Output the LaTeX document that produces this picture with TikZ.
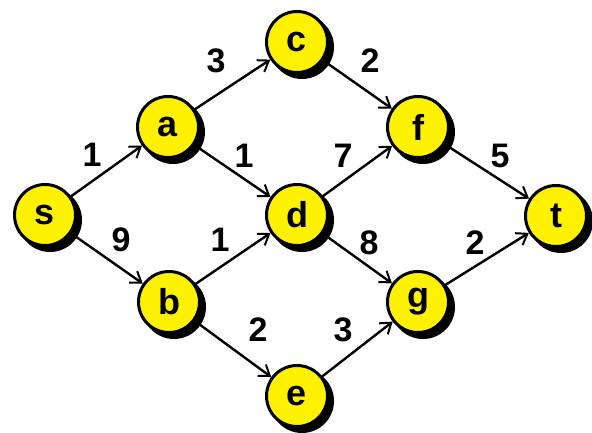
\documentclass[tikz,border=0pt]{standalone}
\usepackage{fontspec}
\setmainfont{Liberation Sans}
\usetikzlibrary{arrows.meta}
\begin{document}
\begin{tikzpicture}[x=1pt,y=-1pt,
  vtx/.style={circle,draw=black,line width=3pt,fill=yellow,minimum size=61pt,inner sep=0pt,
    font=\fontsize{36}{36}\selectfont\bfseries},
  shd/.style={fill=black},
  wt/.style={font=\fontsize{34}{34}\selectfont\bfseries,inner sep=0pt},
  edge/.style={line width=2.4pt,-{Straight Barb[length=10pt,width=14pt,line width=2pt]}}]
\useasboundingbox (0,0) rectangle (592,433);
\foreach \n/\x/\y in {s/45/215,a/168/127,b/169/302,c/297/42,d/297/215,e/297/396,f/418/127,g/418/302,t/556/216}{
  \fill[shd] (\x+5,\y+5) circle (32pt);
}
\node[vtx] (s) at (45,215) {s};
\node[vtx] (a) at (168,127) {a};
\node[vtx] (b) at (169,302) {b};
\node[vtx] (c) at (297,42) {c};
\node[vtx] (d) at (297,215) {d};
\node[vtx] (e) at (297,396) {e};
\node[vtx] (f) at (418,127) {f};
\node[vtx] (g) at (418,302) {g};
\node[vtx] (t) at (556,216) {t};
\draw[edge] (s) -- (a);
\draw[edge] (s) -- (b);
\draw[edge] (a) -- (c);
\draw[edge] (a) -- (d);
\draw[edge] (b) -- (d);
\draw[edge] (b) -- (e);
\draw[edge] (c) -- (f);
\draw[edge] (d) -- (f);
\draw[edge] (d) -- (g);
\draw[edge] (e) -- (g);
\draw[edge] (f) -- (t);
\draw[edge] (g) -- (t);
\node[wt] (w1) at (216,61) {3};
\node[wt] (w2) at (370,61) {2};
\node[wt] (w3) at (92,155) {1};
\node[wt] (w4) at (244,156) {1};
\node[wt] (w5) at (343,156) {7};
\node[wt] (w6) at (500,156) {5};
\node[wt] (w7) at (121,240) {9};
\node[wt] (w8) at (220,240) {1};
\node[wt] (w9) at (369,243) {8};
\node[wt] (w10) at (475,243) {2};
\node[wt] (w11) at (258,330) {2};
\node[wt] (w12) at (343,330) {3};
\end{tikzpicture}
\end{document}
